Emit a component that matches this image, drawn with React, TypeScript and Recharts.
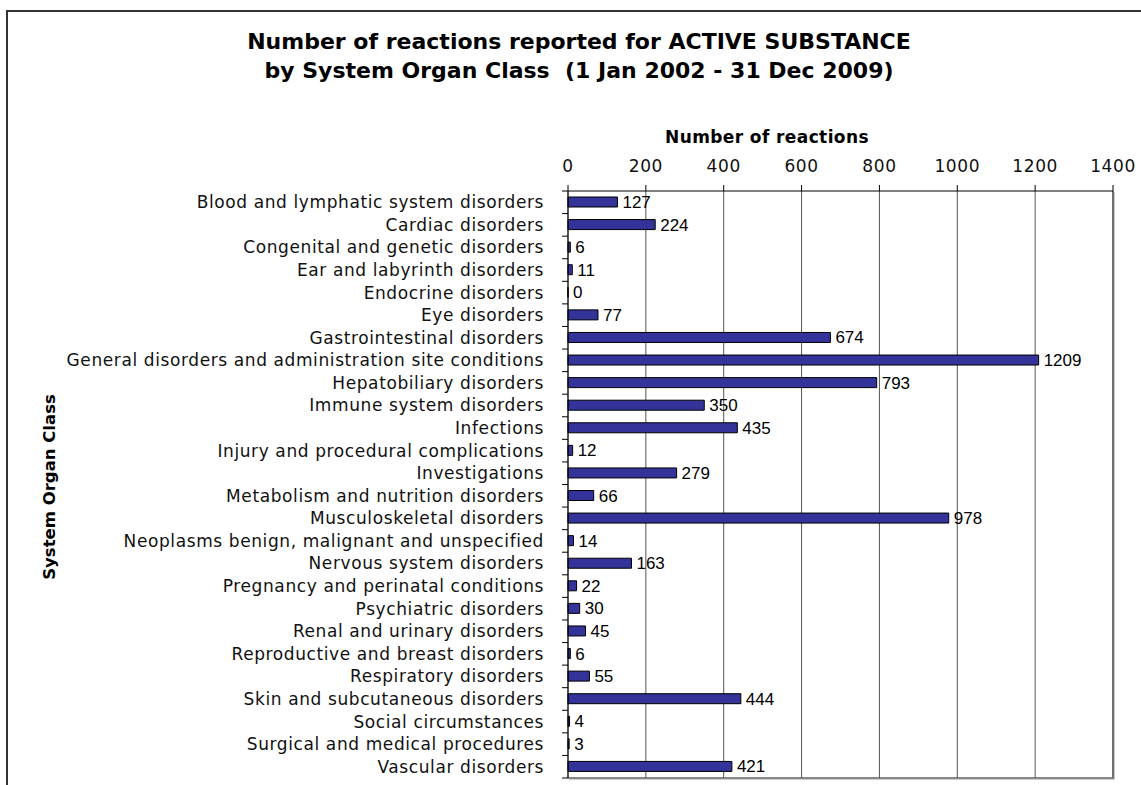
import React from "react";
import { BarChart, Bar, XAxis, YAxis, CartesianGrid, LabelList } from "recharts";

const categories = [
  "Blood and lymphatic system disorders",
  "Cardiac disorders",
  "Congenital and genetic disorders",
  "Ear and labyrinth disorders",
  "Endocrine disorders",
  "Eye disorders",
  "Gastrointestinal disorders",
  "General disorders and administration site conditions",
  "Hepatobiliary disorders",
  "Immune system disorders",
  "Infections",
  "Injury and procedural complications",
  "Investigations",
  "Metabolism and nutrition disorders",
  "Musculoskeletal disorders",
  "Neoplasms benign, malignant and unspecified",
  "Nervous system disorders",
  "Pregnancy and perinatal conditions",
  "Psychiatric disorders",
  "Renal and urinary disorders",
  "Reproductive and breast disorders",
  "Respiratory disorders",
  "Skin and subcutaneous disorders",
  "Social circumstances",
  "Surgical and medical procedures",
  "Vascular disorders",
];

const reactions = [127, 224, 6, 11, 0, 77, 674, 1209, 793, 350, 435, 12, 279, 66, 978, 14, 163, 22, 30, 45, 6, 55, 444, 4, 3, 421];

const xTicks = [0, 200, 400, 600, 800, 1000, 1200, 1400];

const data = categories.map((c, i) => ({ name: c, value: reactions[i] }));

const W = 1141;
const H = 785;
const PLOT_LEFT = 568;
const PLOT_TOP = 191;
const PLOT_RIGHT = 1113;
const PLOT_BOTTOM = 778;
const BAND = (PLOT_BOTTOM - PLOT_TOP) / categories.length;

const LABEL_FONT = "'DejaVu Sans', Verdana, sans-serif";

const CategoryTick = (props: any) => {
  const { x, y, payload, index } = props;
  const top = y - BAND / 2;
  const bottom = y + BAND / 2;
  return (
    <g>
      <line x1={x - 6} x2={x} y1={top} y2={top} stroke="#000" strokeWidth={1} />
      {index === categories.length - 1 && (
        <line x1={x - 6} x2={x} y1={bottom} y2={bottom} stroke="#000" strokeWidth={1} />
      )}
      <text
        x={x - 24}
        y={y}
        dy="0.35em"
        textAnchor="end"
        fontFamily={LABEL_FONT}
        fontSize={17}
        letterSpacing={0.6}
        fill="#111"
      >
        {payload.value}
      </text>
    </g>
  );
};

const ValueTick = (props: any) => {
  const { x, y, payload } = props;
  return (
    <text
      x={x}
      y={y}
      textAnchor="middle"
      fontFamily={LABEL_FONT}
      fontSize={17}
      letterSpacing={0.6}
      fill="#111"
    >
      {payload.value}
    </text>
  );
};

export default function App() {
  return (
    <div style={{ position: "absolute", left: 0, top: 0, width: W, height: H, overflow: "hidden", background: "#fff" }}>
      <div
        style={{
          position: "absolute",
          left: 6,
          top: 10,
          width: W - 6,
          height: H - 10,
          borderTop: "2px solid #333",
          borderLeft: "2px solid #333",
          boxSizing: "border-box",
        }}
      />
      <div
        style={{
          position: "absolute",
          left: 0,
          width: 1158,
          top: 27,
          textAlign: "center",
          fontFamily: LABEL_FONT,
          fontWeight: "bold",
          fontSize: 22,
          lineHeight: "29px",
          color: "#000",
          whiteSpace: "pre",
        }}
      >
        {"Number of reactions reported for ACTIVE SUBSTANCE\nby System Organ Class  (1 Jan 2002 - 31 Dec 2009)"}
      </div>
      <div
        style={{
          position: "absolute",
          left: 567,
          width: 400,
          top: 127,
          textAlign: "center",
          fontFamily: LABEL_FONT,
          fontWeight: "bold",
          fontSize: 17,
          letterSpacing: 0.4,
          lineHeight: "20px",
          color: "#000",
        }}
      >
        Number of reactions
      </div>
      <div
        style={{
          position: "absolute",
          left: 50 - 150,
          top: 487 - 10,
          width: 300,
          height: 20,
          textAlign: "center",
          fontFamily: LABEL_FONT,
          fontWeight: "bold",
          fontSize: 16.5,
          lineHeight: "20px",
          transform: "rotate(-90deg)",
          color: "#000",
        }}
      >
        System Organ Class
      </div>
      <div
        style={{
          position: "absolute",
          left: PLOT_LEFT,
          top: PLOT_TOP,
          width: PLOT_RIGHT - PLOT_LEFT + 1,
          height: PLOT_BOTTOM - PLOT_TOP + 1,
          borderRight: "2px solid #888",
          borderBottom: "2px solid #888",
          boxShadow: "1px 1px 0 #ccc",
          boxSizing: "border-box",
        }}
      />
      <div style={{ position: "absolute", left: 0, top: 0 }}>
        <BarChart
          width={W}
          height={H}
          data={data}
          layout="vertical"
          margin={{ top: PLOT_TOP - 30, right: W - PLOT_RIGHT, bottom: H - PLOT_BOTTOM, left: 0 }}
          barSize={10}
        >
          <CartesianGrid horizontal={false} vertical={true} stroke="#555" strokeWidth={1} />
          <XAxis
            type="number"
            orientation="top"
            domain={[0, 1400]}
            ticks={xTicks}
            height={30}
            tickSize={6}
            tickMargin={13}
            axisLine={{ stroke: "#000" }}
            tickLine={{ stroke: "#000" }}
            tick={<ValueTick />}
            interval={0}
          />
          <YAxis
            type="category"
            dataKey="name"
            width={PLOT_LEFT}
            tickSize={0}
            tickMargin={0}
            axisLine={{ stroke: "#000" }}
            tickLine={false}
            tick={<CategoryTick />}
            interval={0}
          />
          <Bar
            dataKey="value"
            fill="#333399"
            stroke="#000"
            strokeWidth={1}
            isAnimationActive={false}
            minPointSize={(v: any) => (v === 0 ? 0.01 : 0)}
          >
            <LabelList
              dataKey="value"
              position="right"
              offset={5}
              fill="#000"
              fontSize={17}
              fontFamily="'Liberation Sans', Arial, sans-serif"
            />
          </Bar>
        </BarChart>
      </div>
    </div>
  );
}
